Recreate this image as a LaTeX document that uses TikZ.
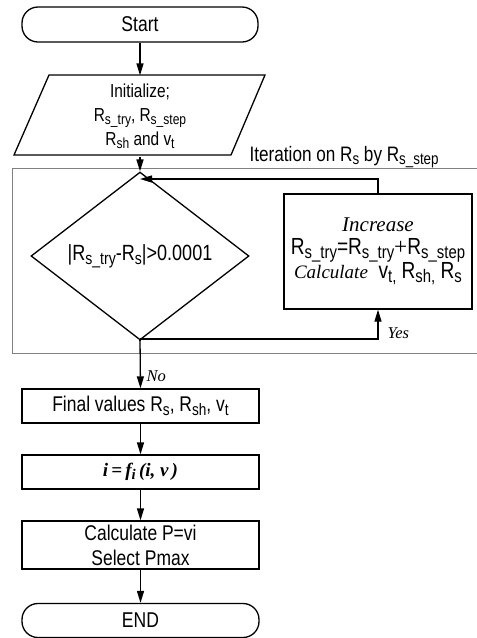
\documentclass[tikz,border=0pt]{standalone}
\usepackage{fontspec}
\setmainfont[FakeStretch=0.82]{Liberation Sans}
\newfontfamily\tms{Liberation Serif}
\usetikzlibrary{arrows.meta,shapes.geometric}
\newcommand\subx[1]{\raisebox{-0.32ex}{\scalebox{0.78}{#1}}}
\begin{document}
\begin{tikzpicture}[x=1pt,y=-1pt,line width=1.3pt,
  arr/.style={-{Triangle[length=12pt,width=7pt]}},
  box/.style={draw,rectangle,minimum width=237pt,minimum height=34pt,inner sep=0pt,align=center,font=\fontsize{21.3}{25}\selectfont},
  term/.style={box,rounded corners=16pt,font=\fontsize{21.4}{25}\selectfont},
  lbl/.style={font=\tms\itshape\fontsize{16.5}{18}\selectfont,inner sep=1pt},
  frame/.style={line width=0.9pt,draw=gray}]
\fill[white] (0,0) rectangle (477,638);
\useasboundingbox (0,0) rectangle (477,638);
% iteration frame
\draw[frame] (477,168) -- (12,168) -- (12,353) -- (477,353);
\node[anchor=base west,inner sep=0pt,font=\fontsize{20.9}{25}\selectfont] (iter) at (249,161) {Iteration on R\subx{s} by R\subx{s\_step}};
% nodes
\node[term,minimum width=236pt,minimum height=35pt] (start) at (140,24.5) {Start};
\node[align=center,minimum height=80pt,inner sep=0pt,font=\fontsize{18.8}{24}\selectfont] (init) at (140,116) {Initialize;\\R\subx{s\_try}, R\subx{s\_step}\\R\subx{sh} and v\subx{t}};
\draw (49,75) -- (265,75) -- (231,155) -- (14,155) -- cycle;
\node[diamond,draw,minimum width=218pt,minimum height=124pt,inner sep=0pt,font=\fontsize{22}{24}\selectfont] (dia) at (140,256) {|R\subx{s\_try}-R\subx{s}|>0.0001};
\node[draw,rectangle,minimum width=188pt,minimum height=115pt,inner sep=0pt,align=center,font=\fontsize{23.3}{22.5}\selectfont] (inc) at (378,251.5) {{\tms\itshape\fontsize{21}{22.5}\selectfont Increase}\\R\subx{s\_try}=R\subx{s\_try}{\tms+}R\subx{s\_step}\\{\tms\itshape\fontsize{19}{22.5}\selectfont Calculate}\ \ v\subx{t,} R\subx{sh,} R\subx{s}};
\node[box] (final) at (140.5,406) {Final values R\subx{s}, R\subx{sh}, v\subx{t}};
\node[box] (ifn) at (140.5,472) {\tms\bfseries\itshape\fontsize{19}{23}\selectfont i\,=\,f\subx{i}\,(i, v\,)};
\node[box,minimum height=48pt] (calc) at (140.5,545) {Calculate P=vi\\Select Pmax};
\node[term] (end) at (140.5,620.5) {END};
% connectors
\coordinate (loop) at (140,179);
\coordinate (split) at (140,339);
\draw[arr] (start.south) -- (init.north);
\draw[arr] (init.south) -- (dia.north);
\draw[arr] (inc.north) |- (loop);
\draw (dia.south) -- (split);
\draw[arr] (split) -| (inc.south);
\draw[arr] (split) -- (final.north);
\draw[arr] (final.south) -- (ifn.north);
\draw[arr] (ifn.south) -- (calc.north);
\draw[arr] (calc.south) -- (end.north);
\node[lbl,anchor=west] (yes) at (386,333) {Yes};
\node[lbl,anchor=west] (no) at (145,376) {No};
\end{tikzpicture}
\end{document}
